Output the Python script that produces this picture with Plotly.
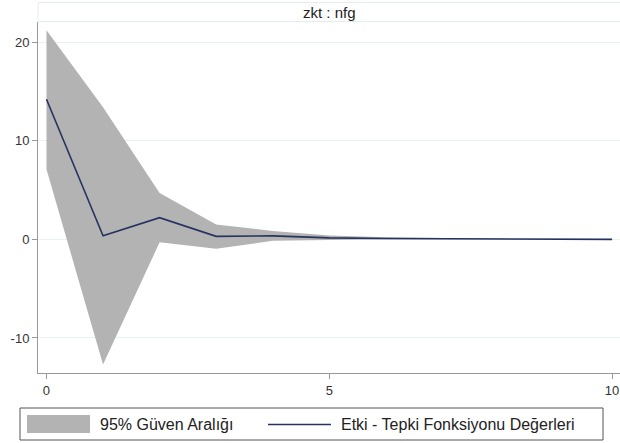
import plotly.graph_objects as go

# Impulse-response horizon and estimates (zkt : nfg)
steps = list(range(11))
irf = [14.2, 0.35, 2.2, 0.3, 0.35, 0.15, 0.08, 0.05, 0.03, 0.01, 0.0]
ci_upper = [21.2, 13.4, 4.7, 1.5, 0.85, 0.4, 0.2, 0.1, 0.05, 0.02, 0.01]
ci_lower = [7.1, -12.7, -0.3, -0.95, -0.15, -0.05, 0.0, 0.0, 0.0, 0.0, 0.0]

y_ticks = [-10, 0, 10, 20]
y_tick_labels = ["-10", "0", "10", "20"]
x_ticks = [0, 5, 10]

panel_title = "zkt : nfg"
band_label = "95% Güven Aralığı"
line_label = "Etki - Tepki Fonksiyonu Değerleri"

BAND = "#b3b3b3"
LINE = "#26335f"
FONT = "Arial, Liberation Sans, sans-serif"

W, H = 620, 443
L, R, T, B = 38, 0, 22, 70
pw, ph = W - L - R, H - T - B


def px_x(p):
    return (p - L) / pw


def px_y(p):
    return (H - B - p) / ph


fig = go.Figure()
fig.add_trace(go.Scatter(x=steps, y=ci_lower, mode="lines", line=dict(width=0, color=BAND),
                         showlegend=False, hoverinfo="skip"))
fig.add_trace(go.Scatter(x=steps, y=ci_upper, mode="lines", line=dict(width=0, color=BAND),
                         fill="tonexty", fillcolor=BAND, showlegend=False))
fig.add_trace(go.Scatter(x=steps, y=irf, mode="lines", line=dict(width=1.6, color=LINE),
                         showlegend=False))

shapes = [
    # header strip
    dict(type="rect", xref="paper", yref="paper", x0=0, x1=1.01, y0=px_y(21.5), y1=px_y(2.5),
         line=dict(color="#e3ecee", width=1), fillcolor="white", layer="below"),
    # legend frame
    dict(type="rect", xref="paper", yref="paper", x0=px_x(20), x1=px_x(603), y0=px_y(440), y1=px_y(408),
         line=dict(color="#555555", width=1), fillcolor="white"),
    # legend swatch for band
    dict(type="rect", xref="paper", yref="paper", x0=px_x(27), x1=px_x(90), y0=px_y(433), y1=px_y(415),
         line=dict(color=BAND, width=0), fillcolor=BAND),
    # legend sample for line
    dict(type="line", xref="paper", yref="paper", x0=px_x(268), x1=px_x(331), y0=px_y(424.5), y1=px_y(424.5),
         line=dict(color=LINE, width=1.6)),
]

annotations = [
    dict(text=panel_title, xref="paper", yref="paper", x=px_x(329), y=px_y(12), showarrow=False,
         xanchor="center", yanchor="middle", font=dict(size=15, color="#222", family=FONT)),
    dict(text=band_label, xref="paper", yref="paper", x=px_x(98), y=px_y(424.5), showarrow=False,
         xanchor="left", yanchor="middle", font=dict(size=16, color="#222", family=FONT)),
    dict(text=line_label, xref="paper", yref="paper", x=px_x(339), y=px_y(424.5), showarrow=False,
         xanchor="left", yanchor="middle", font=dict(size=16, color="#222", family=FONT)),
]

fig.update_layout(
    width=W, height=H,
    margin=dict(l=L, r=R, t=T, b=B, pad=0),
    paper_bgcolor="white", plot_bgcolor="white",
    font=dict(family=FONT, size=13, color="#333"),
    showlegend=False,
    shapes=shapes,
    annotations=annotations,
    xaxis=dict(range=[-0.15, 10.14], tickvals=x_ticks, ticks="outside", ticklen=5,
               tickcolor="#999", showline=True, linecolor="#999", linewidth=1,
               showgrid=False, zeroline=False, tickfont=dict(size=13, color="#333")),
    yaxis=dict(range=[-13.55, 22.03], tickvals=y_ticks, ticktext=y_tick_labels,
               ticks="outside", ticklen=5, tickcolor="#999", showline=True,
               linecolor="#999", linewidth=1, showgrid=True, gridcolor="#eaf1f2",
               gridwidth=1, zeroline=False, tickfont=dict(size=13, color="#333")),
)

fig.write_html("out.html")
